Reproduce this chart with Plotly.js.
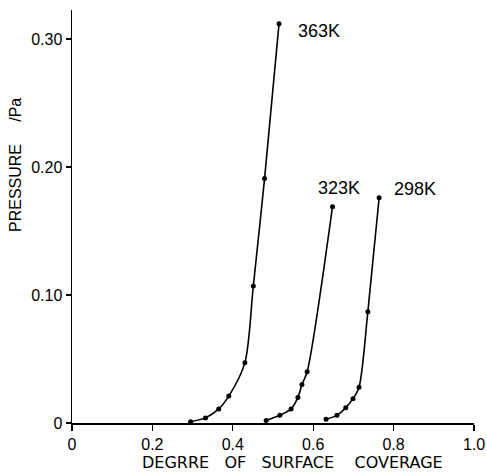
<!DOCTYPE html>
<html>
<head>
<meta charset="utf-8">
<script src="https://cdn.plot.ly/plotly-3.0.1.min.js"></script>
<style>html,body{margin:0;padding:0;background:#fff;}#chart{width:487px;height:476px;}</style>
</head>
<body>
<div id="chart"></div>
<script>
// Degree of surface coverage (x) and pressure in Pa (y)
const x363 = [0.295, 0.332, 0.365, 0.390, 0.430, 0.451, 0.479, 0.515];
const y363 = [0.001, 0.004, 0.011, 0.021, 0.047, 0.107, 0.191, 0.312];
const x323 = [0.483, 0.517, 0.545, 0.562, 0.572, 0.585, 0.648];
const y323 = [0.002, 0.006, 0.011, 0.020, 0.030, 0.040, 0.169];
const x298 = [0.632, 0.659, 0.681, 0.699, 0.714, 0.736, 0.764];
const y298 = [0.003, 0.006, 0.012, 0.019, 0.028, 0.087, 0.176];
const seriesLabels = ["363K", "323K", "298K"];
const xTickVals = [0, 0.2, 0.4, 0.6, 0.8, 1.0];
const xTickText = ["0", "0.2", "0.4", "0.6", "0.8", "1.0"];
const yTickVals = [0, 0.10, 0.20, 0.30];
const yTickText = ["0", "0.10", "0.20", "0.30"];

const FONT = "Liberation Sans, Arial, sans-serif";
const WIDE = "DejaVu Sans, sans-serif";
function tr(x, y) {
  return {x: x, y: y, type: "scatter", mode: "lines+markers",
    line: {color: "#000", width: 1.6, shape: "spline", smoothing: 0.8},
    marker: {color: "#000", size: 5}, hoverinfo: "skip", showlegend: false};
}
const data = [tr(x363, y363), tr(x323, y323), tr(x298, y298)];

const labelPos = [[0.557, 0.306], [0.607, 0.184], [0.796, 0.183]];
const annotations = seriesLabels.map((t, i) => ({
  text: t, x: labelPos[i][0], y: labelPos[i][1], xref: "x", yref: "y",
  xanchor: "left", yanchor: "middle", showarrow: false,
  font: {family: FONT, size: 18, color: "#000"}
}));
annotations.push({
  text: "DEGRRE&nbsp;&nbsp;&nbsp;OF&nbsp;&nbsp;&nbsp;SURFACE&nbsp;&nbsp;&nbsp;&nbsp;COVERAGE", xref: "paper", yref: "paper",
  x: (292 - 72) / 402, y: -(463 - 423) / 413, xanchor: "center", yanchor: "middle", showarrow: false,
  font: {family: WIDE, size: 16, color: "#000"}
});
annotations.push({
  text: "PRESSURE&nbsp;&nbsp;&nbsp;&nbsp;&nbsp;/Pa", xref: "paper", yref: "paper",
  x: -57 / 402, y: (423 - 165) / 413, xanchor: "center", yanchor: "middle", textangle: -90,
  showarrow: false, font: {family: FONT, size: 16, color: "#000"}
});

const layout = {
  width: 487, height: 476,
  margin: {l: 72, r: 13, t: 10, b: 53},
  paper_bgcolor: "#fff", plot_bgcolor: "#fff",
  font: {family: FONT, size: 16, color: "#000"},
  xaxis: {range: [0, 1.0], tickvals: xTickVals, ticktext: xTickText,
    showgrid: false, zeroline: false, showline: true, linecolor: "#000", linewidth: 1.5,
    ticks: "outside", ticklen: 6, tickwidth: 1.3, tickcolor: "#000",
    tickfont: {family: FONT, size: 16, color: "#000"}},
  yaxis: {range: [0, 0.3227], tickvals: yTickVals, ticktext: yTickText,
    showgrid: false, zeroline: false, showline: true, linecolor: "#000", linewidth: 1.5,
    ticks: "outside", ticklen: 5, tickwidth: 1.3, tickcolor: "#000",
    tickfont: {family: FONT, size: 16, color: "#000"}},
  annotations: annotations
};
Plotly.newPlot("chart", data, layout, {staticPlot: true, displayModeBar: false});
</script>
</body>
</html>
